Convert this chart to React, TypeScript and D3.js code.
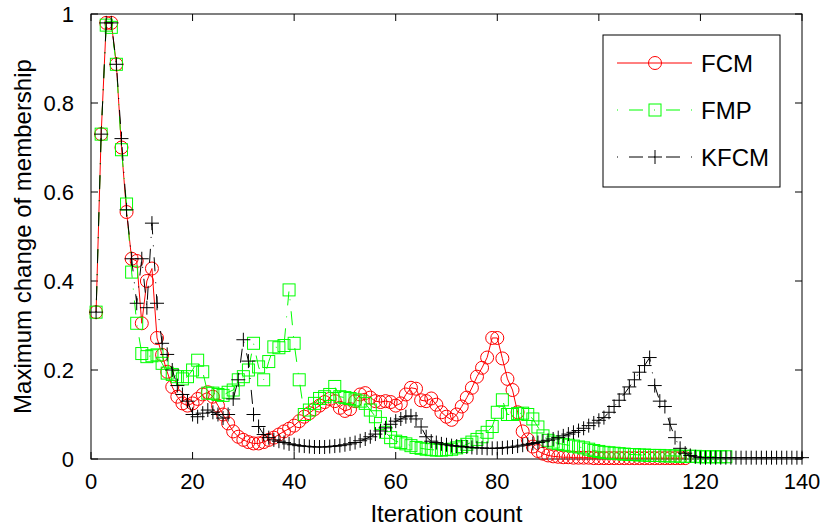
import React from "react";
import * as d3 from "d3";

const fcm: number[] = [
  0.33, 0.73, 0.98, 0.98, 0.887, 0.70, 0.555, 0.45, 0.445, 0.305,
  0.40, 0.428, 0.272, 0.234, 0.196, 0.162, 0.14, 0.125, 0.12, 0.125,
  0.135, 0.145, 0.15, 0.14, 0.12, 0.10, 0.08, 0.062, 0.05, 0.043,
  0.038, 0.035, 0.035, 0.038, 0.043, 0.048, 0.055, 0.062, 0.068, 0.075,
  0.085, 0.095, 0.103, 0.112, 0.12, 0.128, 0.135, 0.13, 0.115, 0.108,
  0.112, 0.13, 0.145, 0.148, 0.138, 0.13, 0.128, 0.13, 0.128, 0.12,
  0.125, 0.145, 0.16, 0.158, 0.132, 0.13, 0.136, 0.122, 0.105, 0.095,
  0.088, 0.10, 0.118, 0.138, 0.16, 0.185, 0.205, 0.228, 0.272, 0.272,
  0.226, 0.18, 0.155, 0.105, 0.062, 0.044, 0.028, 0.018, 0.012, 0.008,
  0.006, 0.005, 0.004, 0.004, 0.003, 0.003, 0.003, 0.003, 0.002, 0.002,
  0.002, 0.002, 0.002, 0.002, 0.002, 0.002, 0.002, 0.002, 0.002, 0.002,
  0.002, 0.002, 0.002, 0.002, 0.002, 0.002, 0.002,
];

const fmp: number[] = [
  0.33, 0.73, 0.975, 0.97, 0.887, 0.695, 0.573, 0.42, 0.305, 0.237,
  0.23, 0.232, 0.234, 0.215, 0.193, 0.19, 0.185, 0.18, 0.185, 0.2,
  0.222, 0.196, 0.148, 0.148, 0.145, 0.143, 0.15, 0.155, 0.178, 0.185,
  0.2, 0.26, 0.207, 0.178, 0.219, 0.252, 0.25, 0.255, 0.38, 0.26,
  0.178, 0.1, 0.11, 0.125, 0.136, 0.14, 0.145, 0.163, 0.14, 0.138,
  0.136, 0.133, 0.13, 0.125, 0.11, 0.095, 0.08, 0.06, 0.048, 0.04,
  0.037, 0.034, 0.03, 0.026, 0.024, 0.022, 0.021, 0.02, 0.02, 0.021,
  0.022, 0.025, 0.028, 0.033, 0.038, 0.044, 0.05, 0.06, 0.073, 0.105,
  0.133, 0.1, 0.1, 0.102, 0.103, 0.1, 0.09, 0.072, 0.052, 0.042,
  0.038, 0.035, 0.033, 0.031, 0.029, 0.027, 0.025, 0.022, 0.019, 0.017,
  0.015, 0.014, 0.013, 0.012, 0.011, 0.01, 0.01, 0.009, 0.009, 0.008,
  0.008, 0.008, 0.007, 0.007, 0.007, 0.006, 0.006, 0.006, 0.006, 0.005,
  0.005, 0.005, 0.005, 0.005, 0.005,
];

const kfcm: number[] = [
  0.33, 0.73, 0.98, 0.98, 0.887, 0.72, 0.56, 0.45, 0.35, 0.45,
  0.34, 0.53, 0.35, 0.26, 0.235, 0.2, 0.165, 0.145, 0.13, 0.1,
  0.095, 0.103, 0.11, 0.105, 0.1, 0.092, 0.1, 0.135, 0.178, 0.268,
  0.22, 0.1, 0.073, 0.055, 0.048, 0.043, 0.04, 0.037, 0.034, 0.032,
  0.03, 0.029, 0.028, 0.027, 0.027, 0.027, 0.028, 0.029, 0.03, 0.032,
  0.034, 0.037, 0.041, 0.045, 0.05, 0.056, 0.063, 0.07, 0.078, 0.085,
  0.09, 0.095, 0.097, 0.09, 0.072, 0.05, 0.04, 0.037, 0.034, 0.032,
  0.03, 0.029, 0.028, 0.027, 0.026, 0.025, 0.025, 0.024, 0.024, 0.024,
  0.025, 0.026, 0.027, 0.029, 0.031, 0.033, 0.035, 0.037, 0.04, 0.042,
  0.045, 0.048, 0.052, 0.056, 0.06, 0.064, 0.069, 0.075, 0.081, 0.087,
  0.093, 0.105, 0.118, 0.132, 0.146, 0.162, 0.178, 0.195, 0.21, 0.228,
  0.165, 0.13, 0.118, 0.078, 0.048, 0.024, 0.013, 0.008, 0.005, 0.003,
  0.003, 0.003, 0.003, 0.003, 0.003, 0.003, 0.003, 0.003, 0.003, 0.003,
  0.003, 0.003, 0.003, 0.003, 0.003, 0.003, 0.003, 0.003, 0.003, 0.003,
];

const xTicks = [0, 20, 40, 60, 80, 100, 120, 140];
const yTicks = [0, 0.2, 0.4, 0.6, 0.8, 1];
const yTickLabels = ["0", "0.2", "0.4", "0.6", "0.8", "1"];
const seriesNames = ["FCM", "FMP", "KFCM"];

const W = 826;
const H = 527;
const L = 91, R = 802, T = 14, B = 459;
const FONT = "'Liberation Sans', Arial, Helvetica, sans-serif";
const DASHDOT = "1,11,14,11";

export default function App() {
  const x = d3.scaleLinear().domain([0, 140]).range([L, R]);
  const y = d3.scaleLinear().domain([0, 1]).range([B, T]);
  const line = d3
    .line<number>()
    .x((_, i) => x(i + 1))
    .y((d) => y(d));

  const circle = (cx: number, cy: number, k: string) => (
    <circle key={k} cx={cx} cy={cy} r={6.5} fill="none" stroke="#ff0000" strokeWidth={1} />
  );
  const square = (cx: number, cy: number, k: string) => (
    <rect key={k} x={cx - 6} y={cy - 6} width={12} height={12} fill="none" stroke="#00ff00" strokeWidth={1} />
  );
  const plus = (cx: number, cy: number, k: string) => (
    <path key={k} d={`M${cx - 7},${cy}H${cx + 7}M${cx},${cy - 7}V${cy + 7}`} stroke="#000" strokeWidth={1} fill="none" />
  );

  const lx0 = 617, lx1 = 692, lmid = 655;
  const ly = [63, 110, 157];

  return (
    <svg width={W} height={H} style={{ position: "absolute", left: 0, top: 0, background: "#fff" }} fontFamily={FONT}>
      <rect x={0} y={0} width={W} height={H} fill="#fff" />
      <rect x={L} y={T} width={R - L} height={B - T} fill="none" stroke="#000" strokeWidth={1} />
      {xTicks.map((t) => (
        <g key={"xt" + t}>
          <line x1={x(t)} x2={x(t)} y1={B} y2={B - 7} stroke="#000" />
          <line x1={x(t)} x2={x(t)} y1={T} y2={T + 7} stroke="#000" />
          <text x={x(t)} y={489} textAnchor="middle" fontSize={22}>{t}</text>
        </g>
      ))}
      {yTicks.map((t, i) => (
        <g key={"yt" + t}>
          <line x1={L} x2={L + 7} y1={y(t)} y2={y(t)} stroke="#000" />
          <line x1={R} x2={R - 7} y1={y(t)} y2={y(t)} stroke="#000" />
          <text x={74} y={y(t)} dy="0.36em" textAnchor="end" fontSize={22}>{yTickLabels[i]}</text>
        </g>
      ))}
      <text x={(L + R) / 2} y={522} textAnchor="middle" fontSize={24}>Iteration count</text>
      <text transform={`translate(31,${(T + B) / 2}) rotate(-90)`} textAnchor="middle" fontSize={24}>
        Maximum change of membership
      </text>

      <path d={line(fcm) || ""} fill="none" stroke="#ff0000" strokeWidth={1} />
      {fcm.map((v, i) => circle(x(i + 1), y(v), "c" + i))}
      <path d={line(fmp) || ""} fill="none" stroke="#00ff00" strokeWidth={1} strokeDasharray={DASHDOT} />
      {fmp.map((v, i) => square(x(i + 1), y(v), "s" + i))}
      <path d={line(kfcm) || ""} fill="none" stroke="#000" strokeWidth={1} strokeDasharray={DASHDOT} />
      {kfcm.map((v, i) => plus(x(i + 1), y(v), "p" + i))}

      <rect x={603} y={35} width={177} height={152} fill="#fff" stroke="#000" strokeWidth={1} />
      <line x1={lx0} x2={lx1} y1={ly[0]} y2={ly[0]} stroke="#ff0000" />
      {circle(lmid, ly[0], "lc")}
      <line x1={lx0} x2={lx1} y1={ly[1]} y2={ly[1]} stroke="#00ff00" strokeDasharray={DASHDOT} />
      {square(lmid, ly[1], "ls")}
      <line x1={lx0} x2={lx1} y1={ly[2]} y2={ly[2]} stroke="#000" strokeDasharray={DASHDOT} />
      {plus(lmid, ly[2], "lp")}
      {seriesNames.map((n, i) => (
        <text key={n} x={701} y={ly[i]} dy="0.36em" fontSize={24}>{n}</text>
      ))}
    </svg>
  );
}
